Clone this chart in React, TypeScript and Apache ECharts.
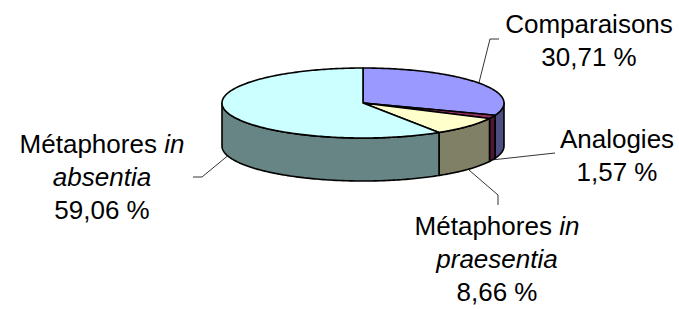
import React, { useEffect, useRef } from 'react';
import * as echarts from 'echarts';

const categories = ['Comparaisons', 'Analogies', 'Métaphores in praesentia', 'Métaphores in absentia'];
const values = [30.71, 1.57, 8.66, 59.06];

const topColors = ['#9999FF', '#993366', '#FFFFCC', '#CCFFFF'];
const sideColors = ['#4D4D80', '#4D1A33', '#808066', '#678585'];

// layout (not data)
const CX = 363, CY = 103, RX = 141, RY = 35, DEPTH = 43;
const FONT = 26, LH = 33;
const labelCenters = [[589, 40], [617, 155], [497, 259], [102, 177]];
const leaderPaths = [
  [[490, 39], [499, 39]],
  [[555, 153]],
  [[498, 195], [498, 205]],
  [[202, 177], [193, 177]],
];

function pt(deg: number, dy = 0): number[] {
  const r = (deg * Math.PI) / 180;
  return [CX + RX * Math.sin(r), CY - RY * Math.cos(r) + dy];
}
function arc(a: number, b: number, dy = 0): number[][] {
  const pts: number[][] = [];
  const n = Math.max(2, Math.ceil(Math.abs(b - a)));
  for (let k = 0; k <= n; k++) pts.push(pt(a + ((b - a) * k) / n, dy));
  return pts;
}
function fmt(v: number) {
  return v.toFixed(2).replace('.', ',') + ' %';
}
function richName(name: string) {
  return name.replace(/ in (\w+)$/, ' {i|in}\n{i|$1}');
}

export default function App() {
  const ref = useRef<HTMLDivElement>(null);
  useEffect(() => {
    if (!ref.current) return;
    const chart = echarts.init(ref.current, undefined, { renderer: 'svg' });
    const total = values.reduce((s, v) => s + v, 0);
    let acc = 0;
    const data = values.map((v, i) => {
      const s = (acc / total) * 360;
      acc += v;
      const e = (acc / total) * 360;
      return [s, e, i];
    });

    const sideSeries = {
      type: 'custom',
      coordinateSystem: 'none',
      z: 1,
      data,
      renderItem: (params: any, api: any) => {
        const a = api.value(0), b = api.value(1), i = api.value(2);
        const a2 = Math.max(a, 90), b2 = Math.min(b, 270);
        if (a2 >= b2) return { type: 'group', children: [] };
        const top = arc(a2, b2, 0);
        const bot = arc(b2, a2, DEPTH);
        return {
          type: 'polygon',
          shape: { points: top.concat(bot) },
          style: { fill: sideColors[i], stroke: '#000', lineWidth: 1.6, lineJoin: 'round' },
        };
      },
    };

    const topSeries = {
      type: 'custom',
      coordinateSystem: 'none',
      z: 2,
      data,
      renderItem: (params: any, api: any) => {
        const a = api.value(0), b = api.value(1), i = api.value(2);
        const pts = [[CX, CY]].concat(arc(a, b, 0));
        const mid = (a + b) / 2;
        const front = Math.cos((mid * Math.PI) / 180) < 0;
        const anchor = pt(mid, front ? DEPTH : 0);
        const lc = labelCenters[i];
        return {
          type: 'group',
          children: [
            {
              type: 'polygon',
              shape: { points: pts },
              style: { fill: topColors[i], stroke: '#000', lineWidth: 1.6, lineJoin: 'round' },
            },
            {
              type: 'polyline',
              shape: { points: [anchor].concat(leaderPaths[i]) },
              style: { fill: null, stroke: '#000', lineWidth: 0.8 },
            },
            {
              type: 'text',
              style: {
                text: richName(categories[i]) + '\n' + fmt(values[i]),
                x: lc[0],
                y: lc[1],
                align: 'center',
                verticalAlign: 'middle',
                fill: '#000',
                fontSize: FONT,
                fontFamily: '"Liberation Sans", Arial, sans-serif',
                lineHeight: LH,
                rich: {
                  i: {
                    fontStyle: 'italic',
                    fontSize: FONT,
                    fontFamily: '"Liberation Sans", Arial, sans-serif',
                    lineHeight: LH,
                    fill: '#000',
                  },
                },
              },
            },
          ],
        };
      },
    };

    chart.setOption({
      animation: false,
      backgroundColor: '#fff',
      series: [sideSeries, topSeries],
    });
    return () => chart.dispose();
  }, []);
  return (
    <div
      ref={ref}
      style={{ position: 'fixed', left: 0, top: 0, width: 679, height: 309 }}
    />
  );
}
